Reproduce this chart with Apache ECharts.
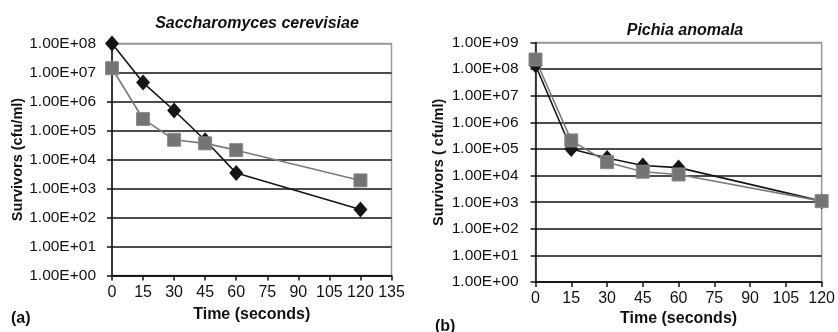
<!DOCTYPE html>
<html>
<head>
<meta charset="utf-8">
<script src="https://cdn.jsdelivr.net/npm/echarts@6/dist/echarts.min.js"></script>
<style>html,body{margin:0;padding:0;background:#fff}#c{width:838px;height:332px}</style>
</head>
<body>
<div id="c"></div>
<script>
// Time points (seconds)
const timesA = [0, 15, 30, 45, 60, 120];
const timesB = [0, 15, 30, 45, 60, 120];
// (a) Saccharomyces cerevisiae survivors (cfu/ml)
const scDiamond = [1e8, 4.5e6, 4.9e5, 4.6e4, 3.4e3, 1.9e2];
const scSquare  = [1.4e7, 2.5e5, 4.8e4, 3.6e4, 2.1e4, 1.9e3];
// (b) Pichia anomala survivors (cfu/ml)
const paDiamond = [1.4e8, 1.0e5, 4.6e4, 2.4e4, 2.0e4, 1.1e3];
const paSquare  = [2.3e8, 2.1e5, 3.2e4, 1.4e4, 1.1e4, 1.1e3];
// Axis settings
const xTicksA = {min: 0, max: 135, interval: 15};
const xTicksB = {min: 0, max: 120, interval: 15};
const titleA = 'Saccharomyces cerevisiae';
const titleB = 'Pichia anomala';

const FONT = 'Liberation Sans, Arial, Helvetica, sans-serif';
function pairs(xs, ys){ return xs.map((x,i)=>[x, ys[i]]); }
function sci(v){
  const e = Math.round(Math.log10(v));
  return '1.00E+' + (e < 10 ? '0' + e : e);
}
function splitColors(n){
  const a = [];
  for (let i = 0; i < n; i++) a.push(i === n - 1 ? '#9a9a9a' : '#111');
  return a;
}
function yAxis(gi, max, nLines, margin, gap, name){
  return {
    type: 'log', logBase: 10, gridIndex: gi, min: 1, max: max, interval: 1,
    name: name, nameLocation: 'middle', nameGap: gap, nameRotate: 90,
    nameTextStyle: {fontFamily: FONT, fontWeight: 'bold', fontSize: 14.5, color: '#111'},
    axisLine: {show: true, lineStyle: {color: '#111', width: 1.5}},
    axisTick: {show: true, length: 5, lineStyle: {color: '#111', width: 1.5}},
    minorTick: {show: false},
    axisLabel: {formatter: sci, fontFamily: FONT, fontSize: 15.5, color: '#111', margin: margin},
    splitLine: {show: true, lineStyle: {color: splitColors(nLines), width: 1.5}}
  };
}
function xAxis(gi, t, margin, gap){
  return {
    type: 'value', gridIndex: gi, min: t.min, max: t.max, interval: t.interval,
    name: 'Time (seconds)', nameLocation: 'middle', nameGap: gap,
    nameTextStyle: {fontFamily: FONT, fontWeight: 'bold', fontSize: 16, color: '#111'},
    axisLine: {show: true, onZero: false, lineStyle: {color: '#111', width: 1.5}},
    axisTick: {show: true, length: 5, lineStyle: {color: '#111', width: 1.5}},
    axisLabel: {fontFamily: FONT, fontSize: 16, color: '#111', margin: margin},
    splitLine: {show: false}
  };
}
function diamond(xi, yi, data){
  return {type: 'line', xAxisIndex: xi, yAxisIndex: yi, data: data,
    symbol: 'diamond', symbolSize: [14, 16], clip: false,
    lineStyle: {color: '#151515', width: 1.6},
    itemStyle: {color: '#151515'}, animation: false};
}
function square(xi, yi, data){
  return {type: 'line', xAxisIndex: xi, yAxisIndex: yi, data: data,
    symbol: 'rect', symbolSize: 13, clip: false,
    lineStyle: {color: '#7a7a7a', width: 1.6},
    itemStyle: {color: '#747474', borderColor: '#8a8a8a', borderWidth: 1}, animation: false};
}

const chart = echarts.init(document.getElementById('c'), null, {renderer: 'canvas'});
chart.setOption({
  backgroundColor: '#fff',
  animation: false,
  title: [
    {text: titleA, left: 252, top: 11, textAlign: 'center',
     textStyle: {fontFamily: FONT, fontStyle: 'italic', fontWeight: 'bold', fontSize: 16, color: '#111'}},
    {text: titleB, left: 680, top: 18, textAlign: 'center',
     textStyle: {fontFamily: FONT, fontStyle: 'italic', fontWeight: 'bold', fontSize: 16, color: '#111'}},
    {text: '(a)', left: 6, top: 306,
     textStyle: {fontFamily: FONT, fontWeight: 'bold', fontSize: 16, color: '#111'}},
    {text: '(b)', left: 430, top: 314,
     textStyle: {fontFamily: FONT, fontWeight: 'bold', fontSize: 16, color: '#111'}}
  ],
  grid: [
    {left: 112, top: 43.5, width: 279.5, height: 232, show: true, borderColor: '#9a9a9a', borderWidth: 1.5, backgroundColor: 'transparent'},
    {left: 535.5, top: 42.5, width: 288.5, height: 247.5, show: true, borderColor: '#9a9a9a', borderWidth: 1.5, backgroundColor: 'transparent'}
  ],
  xAxis: [xAxis(0, xTicksA, 9, 31), xAxis(1, xTicksB, 8, 25)],
  yAxis: [
    yAxis(0, 1e8, 9, 16, 86, 'Survivors (cfu/ml)'),
    yAxis(1, 1e9, 10, 17, 89, 'Survivors ( cfu/ml)')
  ],
  series: [
    diamond(0, 0, pairs(timesA, scDiamond)),
    square(0, 0, pairs(timesA, scSquare)),
    diamond(1, 1, pairs(timesB, paDiamond)),
    square(1, 1, pairs(timesB, paSquare))
  ]
});
</script>
</body>
</html>
